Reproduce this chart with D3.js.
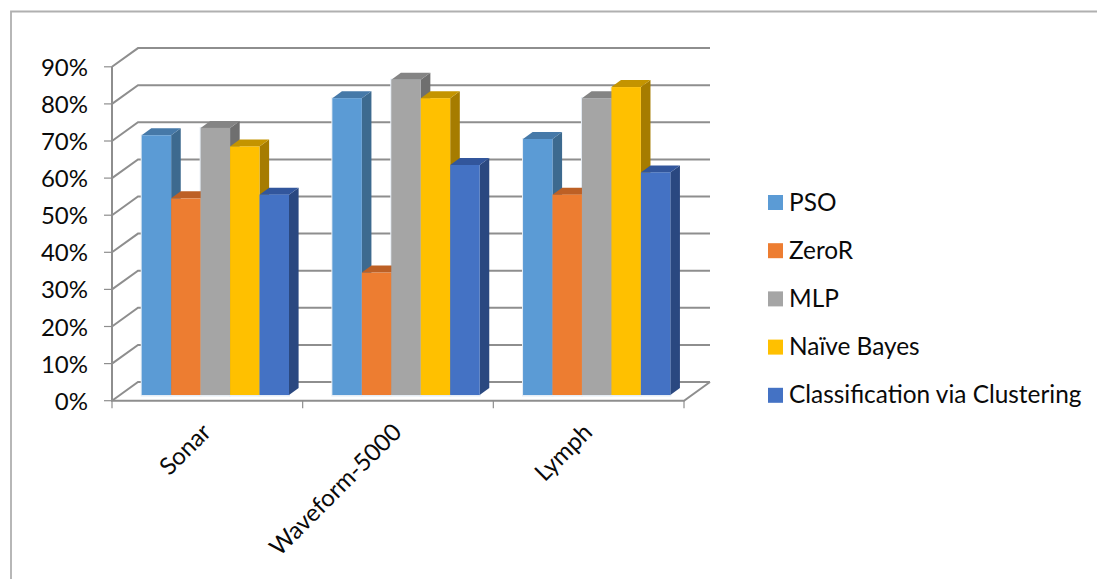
<!DOCTYPE html>
<html>
<head>
<meta charset="utf-8">
<script src="https://cdn.jsdelivr.net/npm/d3@7"></script>
<style>
  html, body { margin: 0; padding: 0; background: #fff; }
  svg { display: block; }
  text { font-family: Lato, "Open Sans", sans-serif; fill: #0a0a0a; }
</style>
</head>
<body>
<svg id="chart" width="1097" height="579"></svg>
<script>
const categories = ["Sonar", "Waveform-5000", "Lymph"];
const seriesNames = ["PSO", "ZeroR", "MLP", "Naïve Bayes", "Classification via Clustering"];
const pso = [70, 80, 69];
const zeroR = [53, 33, 54];
const mlp = [72, 85, 80];
const naiveBayes = [67, 80, 83];
const clustering = [54, 62, 60];
const yTicks = [0, 10, 20, 30, 40, 50, 60, 70, 80, 90];

const seriesValues = [pso, zeroR, mlp, naiveBayes, clustering];
const colors = ["#5b9bd5", "#ed7d31", "#a5a5a5", "#ffc000", "#4472c4"];
const sideColors = ["#3d6a8f", "#b0561f", "#6f6f6f", "#a67c00", "#2a4880"];
const topColors = ["#4679a8", "#bd6025", "#848484", "#c49400", "#32569c"];

const svg = d3.select("#chart");

// Chart frame: open on the right and at the bottom
svg.append("path")
  .attr("d", "M11,579V11.5H1097")
  .attr("fill", "none").attr("stroke", "#b0b0b0").attr("stroke-width", 1.8);

// Front plane scales
const x = d3.scaleBand().domain(categories).range([112, 684]);
const y = d3.scaleLinear().domain([0, 90]).range([400.7, 66.8]);
const wallDx = 26, wallDy = -18.7;      // depth of the plot box
const barDx = 9.6, barDy = -7;          // depth of a bar
const barLift = -5.7;                   // bars stand slightly behind the front edge

const grid = svg.append("g").attr("fill", "none").attr("stroke", "#8e8e8e").attr("stroke-width", 2);
const line = d3.line();

// Gridlines on the back wall and the left side wall
yTicks.forEach(t => {
  grid.append("path").attr("d", line([
    [x.range()[0], y(t)],
    [x.range()[0] + wallDx, y(t) + wallDy],
    [x.range()[1] + wallDx, y(t) + wallDy]
  ]));
});

// Floor edges and front axes
grid.append("path").attr("d", line([
  [x.range()[0], y(90)], [x.range()[0], y(0)], [x.range()[1], y(0)],
  [x.range()[1] + wallDx, y(0) + wallDy]
]));

// Tick marks
const ticks = svg.append("g").attr("stroke", "#8e8e8e").attr("stroke-width", 1.2);
yTicks.forEach(t => {
  ticks.append("line").attr("x1", x.range()[0] - 8).attr("x2", x.range()[0]).attr("y1", y(t)).attr("y2", y(t));
});
[...categories.map(c => x(c)), x.range()[1]].forEach(px => {
  ticks.append("line").attr("x1", px).attr("x2", px).attr("y1", y(0)).attr("y2", y(0) + 7.5);
});

// Y labels
svg.append("g").selectAll("text").data(yTicks).join("text")
  .attr("x", 88).attr("y", d => y(d) + 0.6).attr("dy", "0.35em")
  .attr("text-anchor", "end").attr("font-size", 24)
  .text(d => d + "%");

// Bars
const groupPad = 29.7;
const groupWidth = 147.3;
const inner = d3.scaleBand().domain(d3.range(seriesNames.length)).range([0, groupWidth]);

const halo = svg.append("g").attr("fill", "#e6edf5");
const bars = svg.append("g");
categories.forEach((cat, ci) => {
  seriesNames.forEach((name, si) => {
    const v = seriesValues[si][ci];
    const x0 = x(cat) + groupPad + inner(si);
    const x1 = x0 + inner.bandwidth();
    const yTop = y(v) + barLift;
    const yBase = y(0) + barLift;
    halo.append("rect")
      .attr("x", x0 - 1).attr("y", yTop - 1)
      .attr("width", x1 - x0 + 2).attr("height", yBase - yTop + 2.5);
    const g = bars.append("g");
    g.append("path").attr("fill", sideColors[si]).attr("d", line([
      [x1, yTop], [x1 + barDx, yTop + barDy], [x1 + barDx, yBase + barDy], [x1, yBase]
    ]) + "Z");
    g.append("path").attr("fill", topColors[si]).attr("d", line([
      [x0, yTop], [x0 + barDx, yTop + barDy], [x1 + barDx, yTop + barDy], [x1, yTop]
    ]) + "Z");
    g.append("rect").attr("fill", colors[si])
      .attr("x", x0).attr("y", yTop).attr("width", x1 - x0).attr("height", yBase - yTop);
  });
});

// Category labels
svg.append("g").selectAll("text").data(categories).join("text")
  .attr("text-anchor", "end").attr("font-size", 24)
  .attr("transform", d => `translate(${x(d) + x.bandwidth() / 2 + 5},${y(0) + 33}) rotate(-45)`)
  .text(d => d);

// Legend
const legend = svg.append("g").selectAll("g").data(seriesNames).join("g")
  .attr("transform", (d, i) => `translate(768,${195 + i * 48.2})`);
legend.append("rect").attr("width", 15).attr("height", 15).attr("fill", (d, i) => colors[i]);
legend.append("text").attr("x", 21).attr("y", 7).attr("dy", "0.35em")
  .attr("font-size", 24.4).text(d => d);
</script>
</body>
</html>
